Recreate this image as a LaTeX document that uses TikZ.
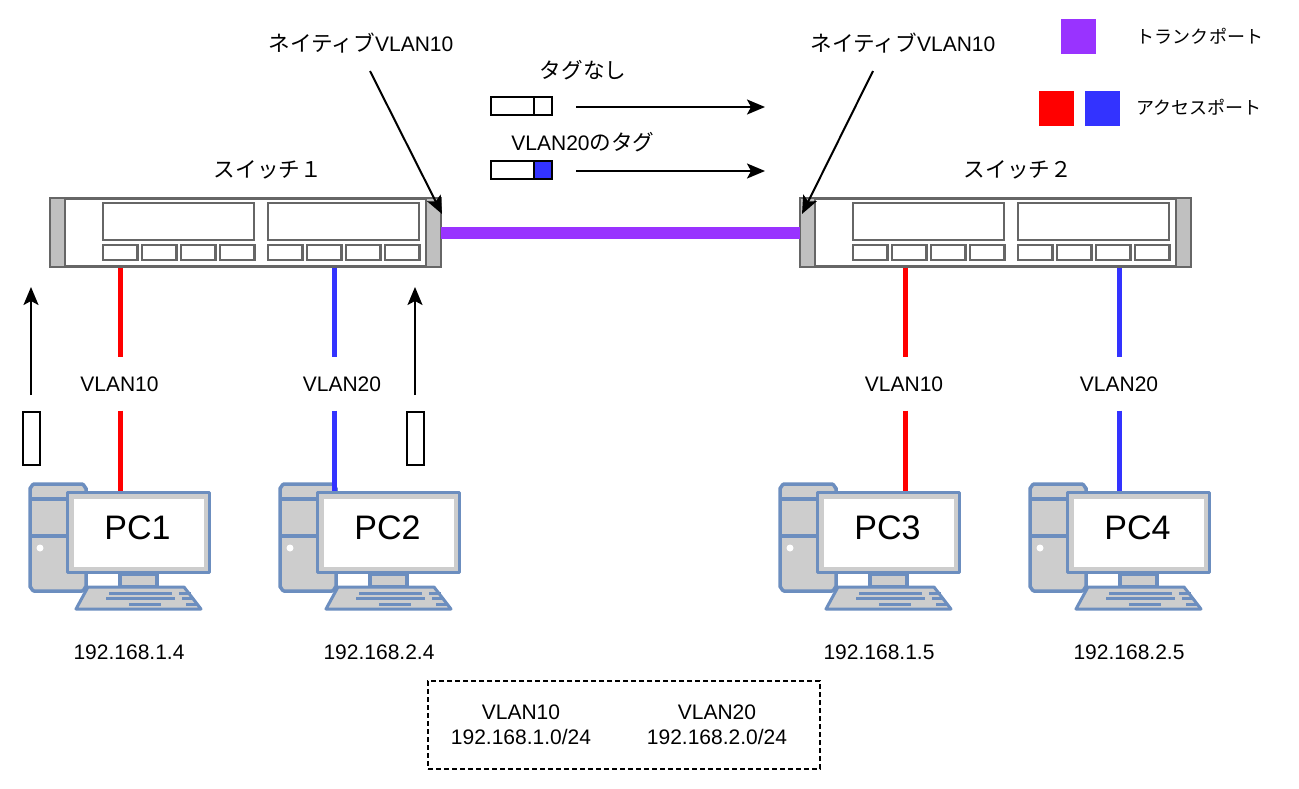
\documentclass[tikz,border=0pt]{standalone}
\usepackage{fontspec}
\setmainfont{Liberation Sans}
\newfontfamily\jpfont[Scale=1.03]{Noto Sans CJK JP}
\usetikzlibrary{arrows.meta,shapes}
\definecolor{trunkcol}{HTML}{9933FF}
\definecolor{vlanred}{HTML}{FF0000}
\definecolor{vlanblue}{HTML}{3333FF}
\definecolor{pcblue}{HTML}{6C8EBF}
\definecolor{pcgray}{HTML}{CDCDCD}
\definecolor{swgray}{HTML}{666666}
\definecolor{eargray}{HTML}{C0C0C0}
\tikzstyle{label}=[font=\fontsize{21}{25}\selectfont,inner sep=0pt]
\tikzstyle{vlan label}=[label,minimum height=53pt]
\tikzstyle{legend label}=[font=\fontsize{17.5}{22}\jpfont,inner sep=0pt]
\tikzstyle{legend}=[minimum size=35pt,inner sep=0pt]
\tikzstyle{arrow}=[draw,line width=2pt,-{Stealth[length=18pt,width=15pt,inset=4pt]}]
\tikzstyle{frame}=[draw,line width=2pt,fill=white]
\tikzstyle{swline}=[draw=swgray,line width=2.5pt]
\tikzstyle{pcline}=[draw=pcblue,line width=3.5pt,fill=pcgray,line join=round]
\tikzstyle{switch}=[swline,fill=white,minimum width=389pt,minimum height=68pt,inner sep=0pt]
\tikzstyle{monitor}=[pcline,minimum width=142pt,minimum height=80pt,inner sep=0pt]
\tikzstyle{screen}=[fill=white,minimum width=130pt,minimum height=68pt,inner sep=0pt]
\tikzstyle{screen text}=[font=\fontsize{34}{40}\selectfont,inner sep=0pt]
\newcommand{\jp}[1]{{\jpfont #1}}
% one switch, #1 = x of left edge, #2 = name
\newcommand{\swbox}[2]{
  \node[switch] (#2) at (#1+195.5,232.5) {};
  \begin{scope}[shift={(#1,0)}]
    \foreach \x in {0,376}
      \draw[swline,fill=eargray] (\x,198) rectangle ++(15,69);
    \foreach \x in {53,218}
      \draw[swline] (\x,203) rectangle ++(151,37);
    \foreach \x in {53,92,131,170,218,257,296,335}
      \draw[swline] (\x,245) rectangle ++(34.5,15);
  \end{scope}
}
% one computer, #1 = x of left edge, #2 = name, #3 = text
\newcommand{\pcbox}[3]{
  \begin{scope}[shift={(#1,0)}]
    \draw[pcline] (4,484) -- (52,484) to[out=0,in=-90] (56,488) -- (56,587) to[out=90,in=0] (52,591) -- (4,591) to[out=180,in=90] (0,587) -- (0,488) to[out=-90,in=180] cycle;
    \draw[pcline] (0,499) -- (56,499) (0,536) -- (56,536);
    \fill[white] (10,548) circle (3.5);
    \draw[pcline] (90,574) rectangle (127,587);
    \draw[pcline,line width=3pt] (58,587) -- (154,587) -- (171,609) -- (46,609) -- cycle;
    \foreach \xa/\xb/\y in {79/142/593,149/161/593,76/145/598,152/164/598,99/131/604,156/168/604}
      \draw[pcblue,line width=3pt] (\xa,\y) -- (\xb,\y);
  \end{scope}
  \node[monitor] (#2m) at (#1+108.5,532.5) {};
  \node[screen] (#2s) at (#2m) {};
  \node[screen text] (#2) at (#1+107.5,528) {#3};
}
\begin{document}
\begin{tikzpicture}[x=1pt,y=-1pt]
  \useasboundingbox (0,0) rectangle (1299,788);
  \swbox{50}{sw1}
  \swbox{800}{sw2}
  \foreach \xpos/\name/\txt in {30/pc1/PC1,280/pc2/PC2,780/pc3/PC3,1030/pc4/PC4}
    \pcbox{\xpos}{\name}{\txt};
  \draw[trunkcol,line width=12pt] (sw1.east) -- (sw2.west);
  % access links
  \foreach \pos/\wire/\name/\sw/\pc/\col/\txt in {
      119.5/120/v1/sw1/pc1/vlanred/VLAN10, 342/334/v2/sw1/pc2/vlanblue/VLAN20,
      904/905/v3/sw2/pc3/vlanred/VLAN10, 1119/1119/v4/sw2/pc4/vlanblue/VLAN20}{
    \node[vlan label] (\name) at (\pos,384) {\txt};
    \coordinate (\name w) at (\wire,0);
    \draw[\col,line width=5pt] (\sw.south -| \name w) -- (\name.north -| \name w);
    \draw[\col,line width=5pt] (\name.south -| \name w) -- (\pc m.north -| \name w);
  }
  \foreach \pos/\name/\txt in {(129,652)/ip1/192.168.1.4,(379,652)/ip2/192.168.2.4,(879,652)/ip3/192.168.1.5,(1129,652)/ip4/192.168.2.5}
    \node[label] (\name) at \pos {\txt};
  % frames going up
  \foreach \xpos/\name in {31/up1,415/up2}{
    \node[frame,minimum width=17pt,minimum height=53pt,inner sep=0pt] (\name) at (\xpos,438) {};
    \coordinate (\name t) at (\xpos,287);
    \path[arrow] (\xpos,395) -- (\name t);
  }
  % native vlan callouts
  \node[label] (nat1) at (361,43) {\jp{ネイティブ}VLAN10};
  \node[label] (nat2) at (903,43) {\jp{ネイティブ}VLAN10};
  \coordinate (nat1e) at (442,214);
  \coordinate (nat2e) at (802,214);
  \path[arrow] (370,71) -- (nat1e);
  \path[arrow] (873,71) -- (nat2e);
  % tagged and untagged frames
  \node[label] (tag0) at (583,70) {\jp{タグなし}};
  \node[label] (tag1) at (583,142) {VLAN20\jp{のタグ}};
  \node[frame,minimum width=43pt,minimum height=18pt,inner sep=0pt] (f0) at (512.5,106) {};
  \node[frame,minimum width=18pt,minimum height=18pt,inner sep=0pt] (t0) at (543,106) {};
  \node[frame,minimum width=43pt,minimum height=18pt,inner sep=0pt] (f1) at (512.5,170) {};
  \node[frame,fill=vlanblue,minimum width=18pt,minimum height=18pt,inner sep=0pt] (t1) at (543,170) {};
  \coordinate (a0) at (765,107);
  \coordinate (a1) at (765,171);
  \path[arrow] (576,107) -- (a0);
  \path[arrow] (576,171) -- (a1);
  \node[label] (s1) at (268,170) {\jp{スイッチ１}};
  \node[label] (s2) at (1018,170) {\jp{スイッチ２}};
  % legend
  \node[legend,fill=trunkcol] (l1) at (1078.5,36.5) {};
  \node[legend,fill=vlanred] (l2) at (1056.5,108) {};
  \node[legend,fill=vlanblue] (l3) at (1102.5,108) {};
  \node[legend label] (l1t) at (1200,36) {トランクポート};
  \node[legend label] (l2t) at (1199,107) {アクセスポート};
  % subnets
  \node[draw,dash pattern=on 5pt off 3pt,line width=1.5pt,minimum width=392pt,minimum height=88pt] (nets) at (624,725) {};
  \node[label,align=center] (n1) at (521,724.5) {VLAN10\\192.168.1.0/24};
  \node[label,align=center] (n2) at (717,724.5) {VLAN20\\192.168.2.0/24};
\end{tikzpicture}
\end{document}
